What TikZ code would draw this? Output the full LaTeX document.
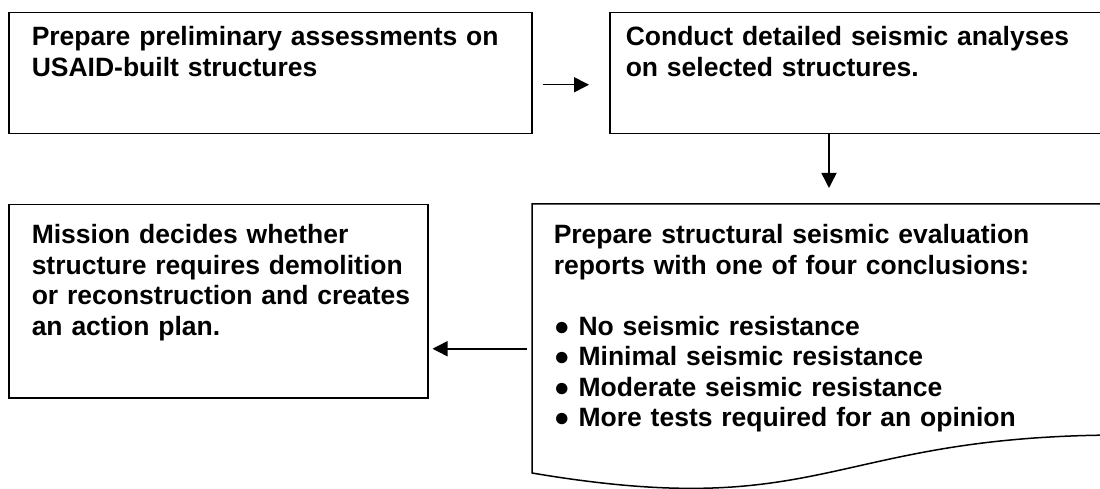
\documentclass[tikz,border=0pt]{standalone}
\usepackage{fontspec}
\setmainfont{Liberation Sans}
\usetikzlibrary{positioning,arrows.meta,calc}

\begin{document}
\begin{tikzpicture}[x=1pt,y=-1pt,->,>={Triangle[length=15pt,width=15pt]},
                    line width=1.5pt,
                    box/.style={draw,rectangle,inner sep=0pt,anchor=north west,-},
                    step text/.style={anchor=north west,inner sep=0pt,align=left,
                    text width=520pt,font=\fontsize{26.5}{30.5}\selectfont\bfseries}]

\useasboundingbox (0,0) rectangle (1100,489);
\clip (0,0) rectangle (1100,489);

% boxes
\node[box,minimum width=523pt,minimum height=121pt] (prep) at (8,12) {};
\node[box,minimum width=500pt,minimum height=121pt] (analyse) at (609,12) {};
\node[box,minimum width=419pt,minimum height=193pt] (decide) at (8,204) {};
\node[box,draw=none,minimum width=590pt,minimum height=288pt] (report) at (532,204) {};

% document shape for the report
\draw[-] (report.north west) -- (report.north east) -- ($(report.north east)+(0,231)$)
    .. controls ($(report.north)+(0,231)$) and ($(report.north)+(0,319)$)
    .. ($(report.north west)+(0,269)$) -- cycle;

% texts
\node[step text] (prep text) at (31,26) {Prepare preliminary assessments on\\USAID-built structures};
\node[step text] (analyse text) at (625,26) {Conduct detailed seismic analyses\\on selected structures.};
\node[step text] (decide text) at (31,224) {Mission decides whether\\structure requires demolition\\or reconstruction and creates\\an action plan.};
\node[step text] (report text) at (553,224) {Prepare structural seismic evaluation\\reports with one of four conclusions:\\[30.5pt]
● No seismic resistance\\● Minimal seismic resistance\\● Moderate seismic resistance\\● More tests required for an opinion};

% arrows
\coordinate (down) at ($(analyse.south west)+(220,0)$);
\draw ($(prep.east)+(10,11.5)$) -- ($(analyse.west)+(-20,11.5)$);
\draw[shorten >=16pt] (down) -- (down |- report.north);
\draw[shorten <=5pt,shorten >=4pt] (report.west) -- (report.west -| decide.east);

\end{tikzpicture}
\end{document}
